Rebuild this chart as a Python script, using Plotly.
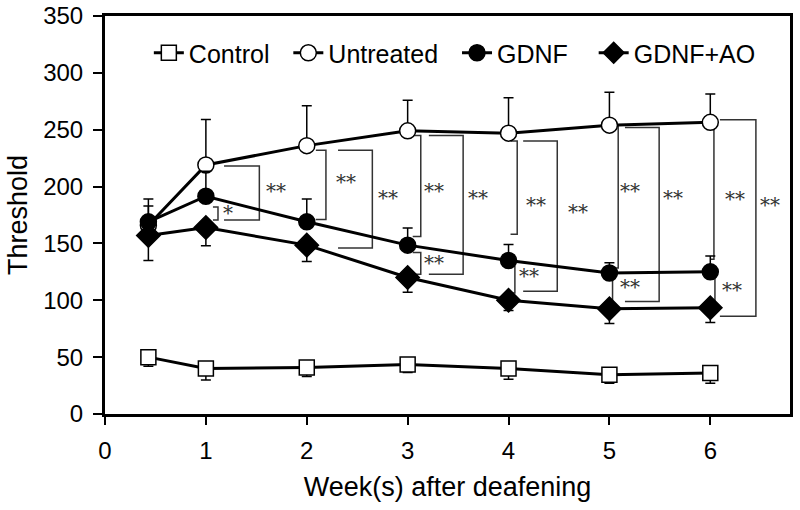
import plotly.graph_objects as go

# ---- data ----
weeks = [0.43, 1, 2, 3, 4, 5, 6]

control = [50, 40, 41, 43.5, 40, 34.5, 36]
control_err = [8, 10, 8, 7, 9.5, 7.5, 9]

untreated = [166, 219, 236, 249, 247, 254, 256.5]
untreated_err = [17, 40, 35, 27, 31, 29, 25]

gdnf = [169, 191.5, 169, 148.5, 135, 124, 125]
gdnf_err = [20, 22, 20, 15, 14, 9, 14]

gdnf_ao = [157, 164, 148.5, 120, 100, 92.5, 93.5]
gdnf_ao_err = [22, 16, 14.5, 13, 9, 13, 13]

x_ticks = [0, 1, 2, 3, 4, 5, 6]
y_ticks = [0, 50, 100, 150, 200, 250, 300, 350]

# significance brackets: x_left, x_right, y_top, y_bottom
br_xl = [1.18, 1.07, 2.09, 2.31, 3.05, 3.21, 3.05, 4.02, 4.145, 4.01, 5.02, 5.154, 4.99, 6.0, 6.095, 6.0]
br_xr = [1.53, 1.12, 2.19, 2.65, 3.13, 3.55, 3.13, 4.086, 4.483, 4.063, 5.087, 5.493, 5.031, 6.036, 6.452, 6.046]
br_yt = [218, 182, 232, 232, 245, 245, 142, 240, 240, 130, 254, 252, 124, 258, 258.7, 119.7]
br_yb = [170.5, 170.5, 171, 146, 156, 123, 123, 158, 108, 106.5, 128.5, 99, 94.6, 136, 86, 93.2]
br_lab = ["**", "*", "**", "**", "**", "**", "**", "**", "**", "**", "**", "**", "**", "**", "**", "**"]
br_lx = [1.695, 1.219, 2.388, 2.805, 3.261, 3.694, 3.261, 4.272, 4.685, 4.205, 5.203, 5.626, 5.203, 6.244, 6.591, 6.211]
br_ly = [196, 177, 204, 190, 196, 190, 133, 183.5, 177.5, 121, 196, 190, 112, 189.5, 183.5, 109]

FONT = "Liberation Sans, Arial, sans-serif"
NB = "\u00a0"

fig = go.Figure()

# brackets
bx, by = [], []
for xl, xr, yt, yb in zip(br_xl, br_xr, br_yt, br_yb):
    bx += [xl, xr, xr, xl, None]
    by += [yt, yt, yb, yb, None]
fig.add_trace(go.Scatter(x=bx, y=by, mode="lines", line=dict(color="#333333", width=1.5),
                         showlegend=False, hoverinfo="skip"))

def add_series(label, y, err, up, symbol, fill, size):
    ey = dict(type="data", symmetric=False, color="black", thickness=1.5, width=5)
    if up:
        ey.update(array=err, arrayminus=[0] * len(err))
    else:
        ey.update(array=[0] * len(err), arrayminus=err)
    fig.add_trace(go.Scatter(
        x=weeks, y=y, name=label, mode="lines+markers",
        line=dict(color="black", width=3),
        marker=dict(symbol=symbol, size=size, color=fill, line=dict(color="black", width=1.5)),
        error_y=ey,
    ))

add_series("Control" + NB * 2, control, control_err, False, "square", "white", 15)
add_series("Untreated" + NB * 2, untreated, untreated_err, True, "circle", "white", 16)
add_series("GDNF" + NB * 3, gdnf, gdnf_err, True, "circle", "black", 16)
add_series("GDNF+AO", gdnf_ao, gdnf_ao_err, False, "diamond", "black", 18)

for lab, lx, ly in zip(br_lab, br_lx, br_ly):
    fig.add_annotation(x=lx, y=ly, text=lab, showarrow=False, xanchor="center", yanchor="middle",
                       font=dict(family="DejaVu Serif, Liberation Serif, serif", size=20, color="#333333"))

fig.update_layout(
    width=800, height=510,
    margin=dict(l=105, r=10, t=16, b=96),
    paper_bgcolor="white", plot_bgcolor="white",
    font=dict(family=FONT, size=24, color="black"),
    legend=dict(orientation="h", x=0.064, y=0.907, xanchor="left", yanchor="middle",
                font=dict(family=FONT, size=25, color="black"), bgcolor="rgba(0,0,0,0)",
                itemclick=False),
    xaxis=dict(range=[0, 6.79], tickvals=x_ticks, ticktext=[str(t) for t in x_ticks],
               showgrid=False, zeroline=False, showline=True, linecolor="black", linewidth=3,
               mirror=True, ticks="outside", ticklen=8, tickwidth=2, tickcolor="black",
               ticklabelstandoff=5, automargin=False,
               title=dict(text=NB * 3 + "Week(s) after deafening", font=dict(size=27), standoff=15)),
    yaxis=dict(range=[0, 350], tickvals=y_ticks, ticktext=[str(t) for t in y_ticks],
               showgrid=False, zeroline=False, showline=True, linecolor="black", linewidth=3,
               mirror=True, ticks="outside", ticklen=9, tickwidth=2, tickcolor="black",
               ticklabelstandoff=5, automargin=False,
               title=dict(text="Threshold", font=dict(size=27), standoff=8)),
)

fig.write_html("out.html", config={"displayModeBar": False},
               post_script="document.body.style.margin='0px';document.body.style.overflow='hidden';")
